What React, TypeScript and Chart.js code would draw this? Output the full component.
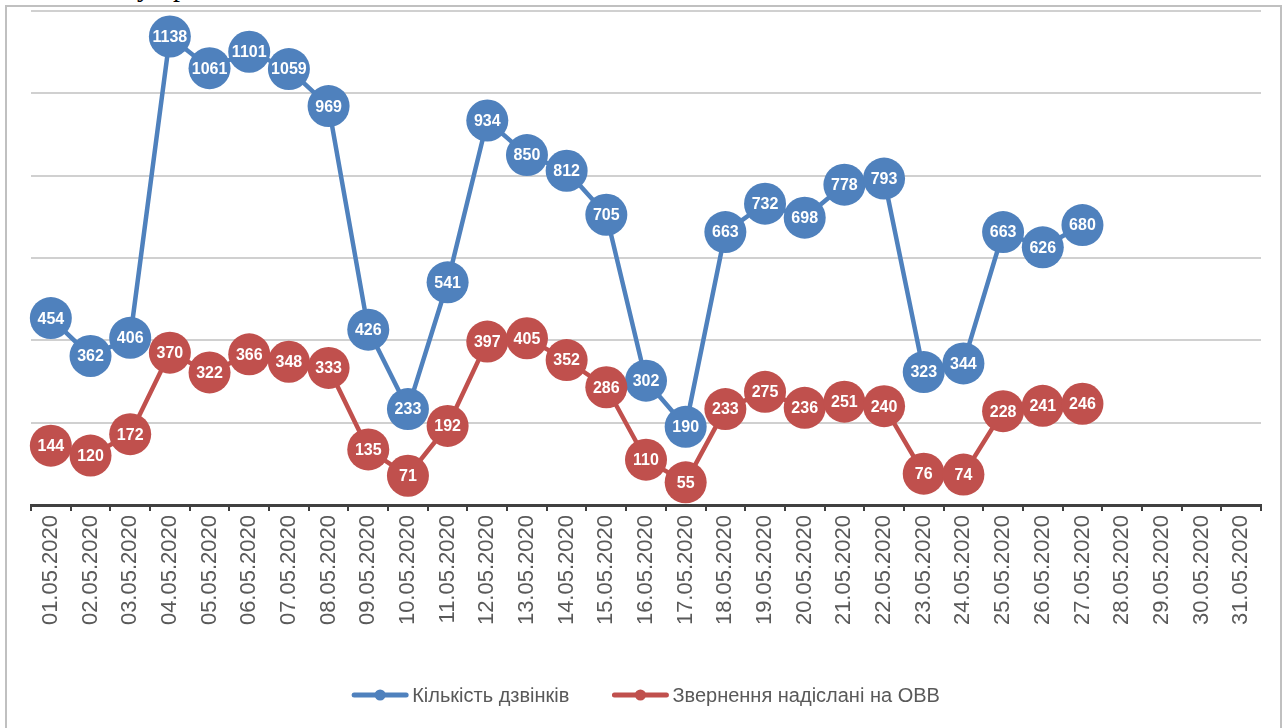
import React, { useEffect, useRef } from "react";
import { Chart, registerables } from "chart.js";

Chart.register(...registerables);

const categories = [
  "01.05.2020", "02.05.2020", "03.05.2020", "04.05.2020", "05.05.2020", "06.05.2020",
  "07.05.2020", "08.05.2020", "09.05.2020", "10.05.2020", "11.05.2020", "12.05.2020",
  "13.05.2020", "14.05.2020", "15.05.2020", "16.05.2020", "17.05.2020", "18.05.2020",
  "19.05.2020", "20.05.2020", "21.05.2020", "22.05.2020", "23.05.2020", "24.05.2020",
  "25.05.2020", "26.05.2020", "27.05.2020", "28.05.2020", "29.05.2020", "30.05.2020",
  "31.05.2020",
];

const callsLabel = "Кількість дзвінків";
const callsValues = [
  454, 362, 406, 1138, 1061, 1101, 1059, 969, 426, 233, 541, 934, 850, 812, 705, 302,
  190, 663, 732, 698, 778, 793, 323, 344, 663, 626, 680,
];

const referralsLabel = "Звернення надіслані на ОВВ";
const referralsValues = [
  144, 120, 172, 370, 322, 366, 348, 333, 135, 71, 192, 397, 405, 352, 286, 110,
  55, 233, 275, 236, 251, 240, 76, 74, 228, 241, 246,
];

const yMin = 0;
const yMax = 1200;
const yStep = 200;

const BLUE = "#4F81BD";
const RED = "#C0504D";
const TEXT = "#595959";

const valueLabelsPlugin = {
  id: "valueLabels",
  afterDatasetsDraw(chart: any) {
    const ctx = chart.ctx;
    ctx.save();
    ctx.fillStyle = "#ffffff";
    ctx.font = "bold 16px 'Liberation Sans', Arial, sans-serif";
    ctx.textAlign = "center";
    ctx.textBaseline = "middle";
    chart.data.datasets.forEach((ds: any, i: number) => {
      const meta = chart.getDatasetMeta(i);
      meta.data.forEach((el: any, j: number) => {
        const v = ds.data[j];
        if (v === null || v === undefined) return;
        ctx.fillText(String(v), el.x, el.y + 1);
      });
    });
    ctx.restore();
  },
};

const legendPlugin = {
  id: "customLegend",
  afterDraw(chart: any) {
    const ctx = chart.ctx;
    const font = "20px 'Liberation Sans', Arial, sans-serif";
    ctx.save();
    ctx.font = font;
    const lineW = 56;
    const gap = 4;
    const itemGap = 43;
    const items = chart.data.datasets.map((ds: any) => ({
      label: ds.label,
      color: ds.borderColor,
      w: ctx.measureText(ds.label).width,
    }));
    const total =
      items.reduce((s: number, it: any) => s + lineW + gap + it.w, 0) +
      itemGap * (items.length - 1);
    const cx = (chart.chartArea.left + chart.chartArea.right) / 2;
    let x = cx - total / 2;
    const y = 695;
    items.forEach((it: any) => {
      ctx.strokeStyle = it.color;
      ctx.lineWidth = 5;
      ctx.lineCap = "round";
      ctx.beginPath();
      ctx.moveTo(x + 2, y);
      ctx.lineTo(x + lineW - 2, y);
      ctx.stroke();
      ctx.fillStyle = it.color;
      ctx.beginPath();
      ctx.arc(x + lineW / 2, y, 5.5, 0, Math.PI * 2);
      ctx.fill();
      ctx.fillStyle = TEXT;
      ctx.textAlign = "left";
      ctx.textBaseline = "middle";
      ctx.fillText(it.label, x + lineW + gap, y + 1);
      x += lineW + gap + it.w + itemGap;
    });
    ctx.restore();
  },
};

export default function App() {
  const canvasRef = useRef<HTMLCanvasElement | null>(null);

  useEffect(() => {
    document.body.style.margin = "0";
    const canvas = canvasRef.current;
    if (!canvas) return;
    const chart = new Chart(canvas, {
      type: "line",
      data: {
        labels: categories,
        datasets: [
          {
            label: callsLabel,
            data: callsValues,
            borderColor: BLUE,
            backgroundColor: BLUE,
            pointBackgroundColor: BLUE,
            pointBorderColor: BLUE,
            borderWidth: 4.5,
            pointRadius: 21,
            pointHoverRadius: 21,
            pointBorderWidth: 0,
            tension: 0,
            clip: false as any,
            order: 2,
          },
          {
            label: referralsLabel,
            data: referralsValues,
            borderColor: RED,
            backgroundColor: RED,
            pointBackgroundColor: RED,
            pointBorderColor: RED,
            borderWidth: 4.5,
            pointRadius: 21,
            pointHoverRadius: 21,
            pointBorderWidth: 0,
            tension: 0,
            clip: false as any,
            order: 1,
          },
        ],
      },
      options: {
        animation: false,
        responsive: false,
        events: [],
        layout: { autoPadding: false, padding: { left: 31, right: 27, top: 11, bottom: 0 } },
        plugins: {
          legend: { display: false },
          tooltip: { enabled: false },
        },
        scales: {
          x: {
            type: "category",
            offset: true,
            grid: {
              display: true,
              drawOnChartArea: false,
              drawTicks: true,
              tickLength: 6,
              color: "#404040",
              lineWidth: 2,
              offset: true,
            },
            border: { display: true, color: "#404040", width: 3 },
            ticks: {
              autoSkip: false,
              minRotation: 90,
              maxRotation: 90,
              padding: 4,
              color: TEXT,
              font: { family: "'Liberation Sans', Arial, sans-serif", size: 22 },
            },
            afterFit: (s: any) => {
              s.height = 223;
            },
          },
          y: {
            min: yMin,
            max: yMax,
            ticks: { display: false, stepSize: yStep },
            grid: { color: "#d0d0d0", lineWidth: 2, drawTicks: false },
            border: { display: false },
            afterFit: (s: any) => {
              s.width = 0;
            },
          },
        },
      },
      plugins: [valueLabelsPlugin, legendPlugin],
    });
    return () => chart.destroy();
  }, []);

  return (
    <div
      style={{
        position: "fixed",
        left: 0,
        top: 0,
        width: 1288,
        height: 728,
        background: "#ffffff",
        overflow: "hidden",
      }}
    >
      <div
        style={{
          position: "absolute",
          left: 137,
          top: -29,
          fontFamily: "'Liberation Serif', 'Times New Roman', serif",
          fontSize: 28,
          lineHeight: "32px",
          color: "#000",
          whiteSpace: "pre",
        }}
      >
        у пр
      </div>
      <div
        style={{
          position: "absolute",
          left: 5,
          top: 5,
          width: 1277,
          height: 740,
          border: "2.5px solid #c0c0c0",
          boxSizing: "border-box",
          background: "#fff",
        }}
      />
      <canvas
        ref={canvasRef}
        width={1288}
        height={728}
        style={{ position: "absolute", left: 0, top: 0, width: 1288, height: 728 }}
      />
    </div>
  );
}
